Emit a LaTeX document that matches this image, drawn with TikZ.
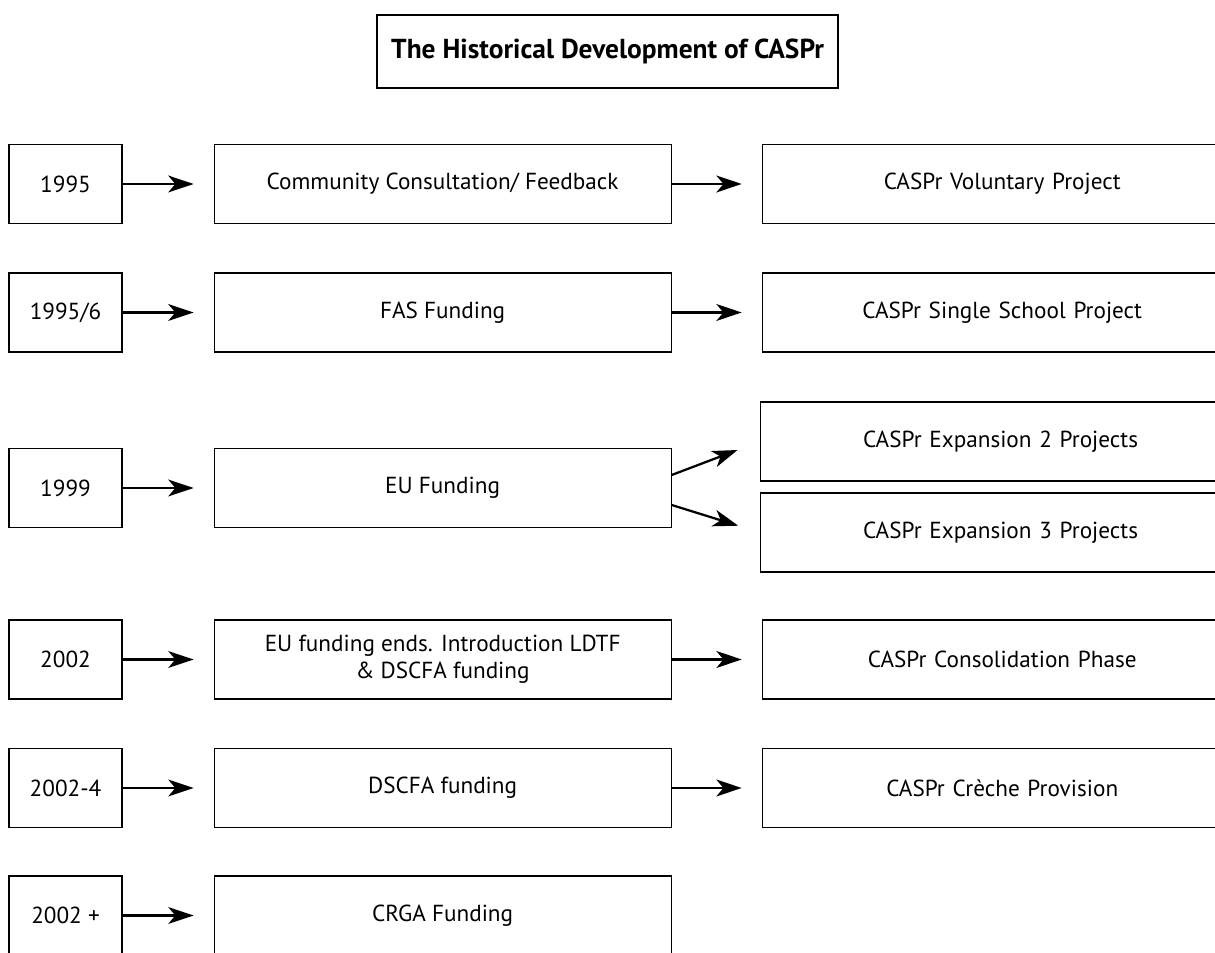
\documentclass[tikz,border=0pt]{standalone}
\usepackage{fontspec}
\setmainfont{PT Sans}
\usetikzlibrary{positioning,arrows.meta}
\begin{document}
\begin{tikzpicture}[
  yearbox/.style={draw,line width=0.8pt,minimum width=2.825cm,minimum height=1.975cm,font=\fontsize{16.5}{19}\selectfont},
  fundbox/.style={draw,line width=0.8pt,minimum width=11.425cm,minimum height=1.975cm,font=\fontsize{16.5}{19}\selectfont,align=center},
  phasebox/.style={draw,line width=0.8pt,minimum width=12cm,minimum height=1.975cm,font=\fontsize{16.5}{19}\selectfont,text width=9.3cm,align=center},
  go/.style={-{Stealth[length=18pt,width=12pt,inset=5pt]},line width=1.6pt,shorten >=0.5cm}]
  \useasboundingbox (0,0) rectangle (30.375,23.825);
  \node [draw,line width=0.9pt,minimum width=11.525cm,minimum height=1.825cm,font=\fontsize{19.5}{23}\selectfont\bfseries] (title) at (15.19,22.54) {The Historical Development of CASPr};
  \node [yearbox] (y1) at (1.6375,19.225) {1995};
  \node [fundbox,right=2.275cm of y1] (f1) {Community Consultation/ Feedback};
  \node [phasebox,right=2.25cm of f1] (p1) {CASPr Voluntary Project};
  \draw [go] (y1) -- (f1);
  \draw [go] (f1) -- (p1);
  \node [yearbox] (y2) at (1.6375,16.0125) {1995/6};
  \node [fundbox,right=2.275cm of y2] (f2) {FAS Funding};
  \node [phasebox,right=2.25cm of f2] (p2) {CASPr Single School Project};
  \draw [go] (y2) -- (f2);
  \draw [go] (f2) -- (p2);
  \node [yearbox] (y3) at (1.6375,11.625) {1999};
  \node [fundbox,right=2.275cm of y3] (f3) {EU Funding};
  \node [phasebox,anchor=west] (p3a) at (19,12.7875) {CASPr Expansion 2 Projects};
  \node [phasebox,anchor=west] (p3b) at (19,10.5125) {CASPr Expansion 3 Projects};
  \draw [go] (y3) -- (f3);
  \draw [go,shorten >=0.6cm] ([yshift=0.325cm]f3.east) -- (p3a.west);
  \draw [go,shorten >=0.57cm] ([yshift=-0.425cm]f3.east) -- (p3b.west);
  \node [yearbox] (y4) at (1.6375,7.3375) {2002};
  \node [fundbox,right=2.275cm of y4] (f4) {EU funding ends. Introduction LDTF\\\& DSCFA funding};
  \node [phasebox,right=2.25cm of f4] (p4) {CASPr Consolidation Phase};
  \draw [go] (y4) -- (f4);
  \draw [go] (f4) -- (p4);
  \node [yearbox] (y5) at (1.6375,4.125) {2002-4};
  \node [fundbox,right=2.275cm of y5] (f5) {DSCFA funding};
  \node [phasebox,right=2.25cm of f5] (p5) {CASPr Crèche Provision};
  \draw [go] (y5) -- (f5);
  \draw [go] (f5) -- (p5);
  \node [yearbox] (y6) at (1.6375,0.9375) {2002 +};
  \node [fundbox,right=2.275cm of y6] (f6) {CRGA Funding};
  \draw [go] (y6) -- (f6);
\end{tikzpicture}
\end{document}
